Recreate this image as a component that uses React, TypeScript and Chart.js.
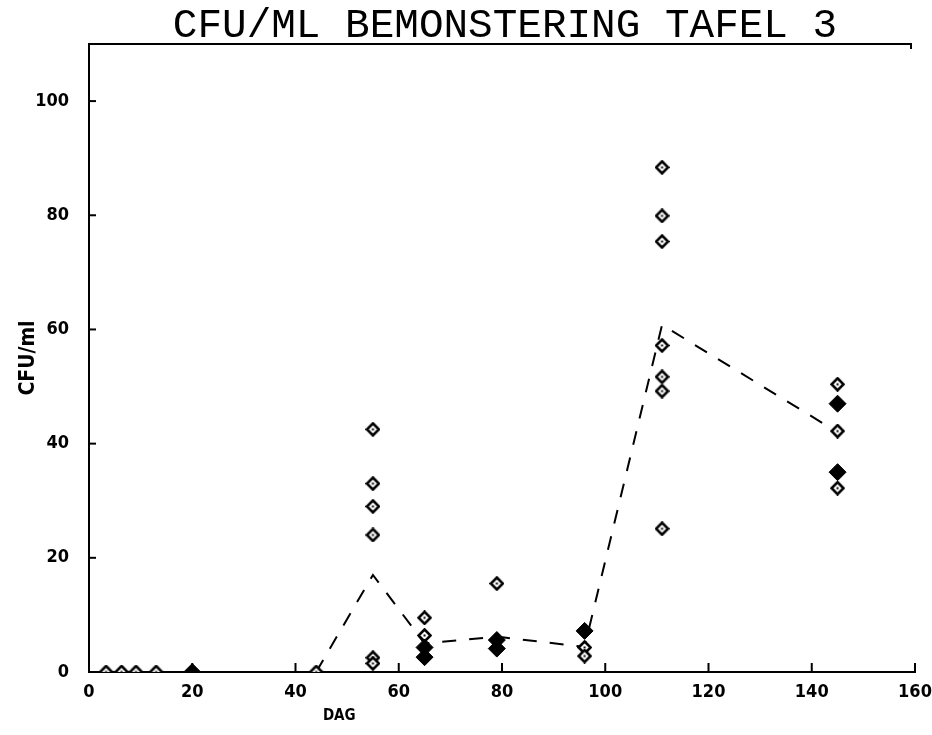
import React, { useEffect, useRef } from 'react';
import { Chart, registerables } from 'chart.js';

Chart.register(...registerables);

const titleText = 'CFU/ML BEMONSTERING TAFEL 3';
const xAxisLabel = 'DAG';
const yAxisLabel = 'CFU/ml';

const xTicks = [0, 20, 40, 60, 80, 100, 120, 140, 160];
const yTicks = [0, 20, 40, 60, 80, 100];

// open diamonds (individual samples)
const openDays = [3.3, 6.3, 9.1, 13, 44, 55, 55, 55, 55, 55, 55, 65, 65, 79, 96, 96, 111, 111, 111, 111, 111, 111, 111, 145, 145, 145];
const openCfu = [0, 0, 0, 0, 0, 42.5, 33.0, 29.0, 24.0, 2.5, 1.5, 9.5, 6.4, 15.5, 4.3, 2.8, 88.4, 79.9, 75.4, 57.2, 51.7, 49.2, 25.1, 50.4, 42.2, 32.2];

// filled diamonds
const filledDays = [20, 65, 65, 79, 79, 96, 145, 145];
const filledCfu = [0, 4.3, 2.6, 5.6, 4.1, 7.2, 47.0, 35.0];

// dashed mean line
const meanDays = [44, 55, 65, 79, 96, 111, 145];
const meanCfu = [0, 17.0, 5.0, 6.2, 4.4, 60.8, 42.0];

const labelFamily = '"DejaVu Sans Condensed", "Liberation Sans Narrow", "DejaVu Sans", sans-serif';

function makeOpenDiamond(size: number): HTMLCanvasElement {
  const c = document.createElement('canvas');
  c.width = size;
  c.height = size;
  const ctx = c.getContext('2d')!;
  const h = size / 2;
  ctx.beginPath();
  ctx.moveTo(h, 1.5);
  ctx.lineTo(size - 1.5, h);
  ctx.lineTo(h, size - 1.5);
  ctx.lineTo(1.5, h);
  ctx.closePath();
  ctx.fillStyle = '#fff';
  ctx.fill();
  ctx.lineWidth = 2.6;
  ctx.strokeStyle = '#000';
  ctx.stroke();
  ctx.fillStyle = '#000';
  ctx.fillRect(h - 1, h - 1, 2, 2);
  return c;
}

const framePlugin = {
  id: 'frameDecor',
  afterDraw(chart: any) {
    const { ctx, chartArea, scales } = chart;
    const xs = scales.x;
    const ys = scales.y;
    ctx.save();
    ctx.strokeStyle = '#000';
    ctx.lineWidth = 2;
    // inward ticks on x axis
    xTicks.forEach((v) => {
      if (v === 0) return;
      const px = xs.getPixelForValue(v);
      ctx.beginPath();
      ctx.moveTo(px, chartArea.bottom);
      ctx.lineTo(px, chartArea.bottom - 9);
      ctx.stroke();
    });
    // inward ticks on y axis
    yTicks.forEach((v) => {
      if (v === 0) return;
      const py = ys.getPixelForValue(v);
      ctx.beginPath();
      ctx.moveTo(chartArea.left, py);
      ctx.lineTo(chartArea.left + 7, py);
      ctx.stroke();
    });
    // top frame line
    ctx.beginPath();
    ctx.moveTo(chartArea.left - 1, chartArea.top);
    ctx.lineTo(chartArea.right - 4, chartArea.top);
    ctx.lineTo(chartArea.right - 4, chartArea.top + 5);
    ctx.stroke();
    // title
    ctx.fillStyle = '#000';
    ctx.font = '41px "Liberation Mono"';
    ctx.textAlign = 'center';
    ctx.textBaseline = 'alphabetic';
    ctx.fillText(titleText, (chartArea.left + chartArea.right) / 2 + 3, 37);
    // x axis label
    ctx.font = 'bold 15px ' + labelFamily;
    ctx.textBaseline = 'middle';
    ctx.fillText(xAxisLabel, chartArea.left + (chartArea.right - chartArea.left) * 0.303, 716);
    ctx.restore();
  },
};

export default function App() {
  const canvasRef = useRef<HTMLCanvasElement | null>(null);

  useEffect(() => {
    if (!canvasRef.current) return;
    const openMarker = makeOpenDiamond(15);
    const chart = new Chart(canvasRef.current, {
      type: 'scatter',
      data: {
        datasets: [
          {
            label: 'filled',
            data: filledDays.map((d, i) => ({ x: d, y: filledCfu[i] })),
            pointStyle: 'rectRot',
            pointRadius: 8.5,
            backgroundColor: '#000',
            borderColor: '#000',
            borderWidth: 1,
            order: 0,
          },
          {
            label: 'open',
            data: openDays.map((d, i) => ({ x: d, y: openCfu[i] })),
            pointStyle: openMarker as any,
            pointRadius: 7,
            order: 1,
          },
          {
            label: 'mean',
            type: 'line',
            data: meanDays.map((d, i) => ({ x: d, y: meanCfu[i] })),
            borderColor: '#000',
            borderWidth: 2,
            borderDash: [14, 13],
            pointRadius: 0,
            showLine: true,
            fill: false,
            tension: 0,
            order: 2,
          } as any,
        ],
      },
      options: {
        animation: false,
        responsive: false,
        layout: { padding: { top: 44, left: 0, right: 17, bottom: 0 } },
        plugins: {
          legend: { display: false },
          tooltip: { enabled: false },
          title: { display: false },
        },
        scales: {
          x: {
            type: 'linear',
            min: 0,
            max: 160,
            afterBuildTicks: (s: any) => {
              s.ticks = xTicks.map((v) => ({ value: v }));
            },
            afterFit: (s: any) => {
              s.height = 63;
              s.paddingLeft = 0;
              s.paddingRight = 0;
            },
            grid: { display: false, drawTicks: false },
            border: { display: true, color: '#000', width: 2 },
            ticks: {
              color: '#000',
              padding: 10,
              maxRotation: 0,
              autoSkip: false,
              font: { family: labelFamily, weight: 'bold', size: 18 },
            },
          },
          y: {
            type: 'linear',
            min: 0,
            max: 110,
            afterBuildTicks: (s: any) => {
              s.ticks = yTicks.map((v) => ({ value: v }));
            },
            afterFit: (s: any) => {
              s.width = 89;
              s.paddingTop = 0;
              s.paddingBottom = 0;
            },
            grid: { display: false, drawTicks: false },
            border: { display: true, color: '#000', width: 2 },
            ticks: {
              color: '#000',
              padding: 20,
              font: { family: labelFamily, weight: 'bold', size: 18 },
            },
            title: {
              display: true,
              text: yAxisLabel,
              color: '#000',
              padding: { top: 16, bottom: 0 },
              font: { family: labelFamily, weight: 'bold', size: 21 },
            },
          },
        },
      },
      plugins: [framePlugin],
    });
    return () => chart.destroy();
  }, []);

  return (
    <div style={{ position: 'absolute', left: 0, top: 0, width: 932, height: 735, background: '#fff' }}>
      <canvas ref={canvasRef} width={932} height={735} style={{ display: 'block' }} />
    </div>
  );
}
